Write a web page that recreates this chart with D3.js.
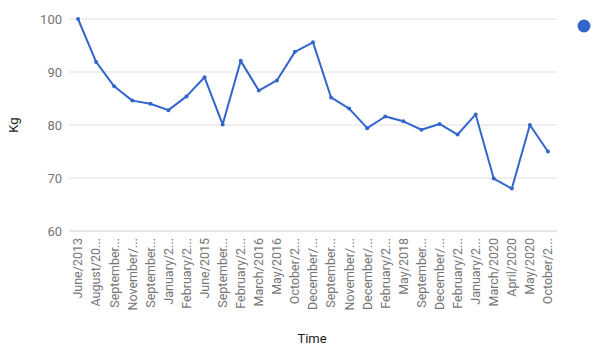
<!DOCTYPE html>
<html>
<head>
<meta charset="utf-8">
<script src="https://cdn.jsdelivr.net/npm/d3@7"></script>
<style>
  html, body { margin: 0; padding: 0; background: #fff; }
  svg { display: block; font-family: Roboto, Arial, sans-serif; }
</style>
</head>
<body>
<svg width="605" height="354"></svg>
<script>
const width = 605;
const height = 354;

// tick labels as shown (Google truncates long ones)
const months = [
    "June/2013", "August/20...", "September...", "November/...", "September...",
    "January/2...", "February/2...", "June/2015", "September...", "February/2...",
    "March/2016", "May/2016", "October/2...", "December/...", "September...",
    "November/...", "December/...", "February/2...", "May/2018", "September...",
    "December/...", "February/2...", "January/2...", "March/2020", "April/2020",
    "May/2020", "October/2..."
];
const weights = [
    100, 91.9, 87.3, 84.6, 84, 82.8, 85.4, 89, 80.1, 92.1,
    86.5, 88.4, 93.8, 95.6, 85.2, 83.1, 79.4, 81.6, 80.7, 79.1,
    80.2, 78.2, 82, 69.9, 68, 80, 75
];
const yTicks = [60, 70, 80, 90, 100];

const margin = {left: 69, right: 48, top: 19, bottom: 123};
const svg = d3.select("svg");

const x = d3.scaleBand()
    .domain(d3.range(months.length))
    .range([margin.left, width - margin.right]);

const y = d3.scaleLinear()
    .domain([60, 100])
    .range([height - margin.bottom, margin.top]);

// gridlines
svg.append("g")
    .selectAll("line")
    .data(yTicks)
    .join("line")
    .attr("x1", margin.left)
    .attr("x2", width - margin.right)
    .attr("y1", d => y(d))
    .attr("y2", d => y(d))
    .attr("stroke", d => d === 60 ? "#cccccc" : "#e0e0e0")
    .attr("stroke-width", 1);

// y labels
svg.append("g")
    .selectAll("text")
    .data(yTicks)
    .join("text")
    .attr("x", margin.left - 7)
    .attr("y", d => y(d))
    .attr("dy", "0.35em")
    .attr("text-anchor", "end")
    .attr("font-size", 13)
    .attr("fill", "#757575")
    .text(d => d);

// x labels, rotated
svg.append("g")
    .selectAll("text")
    .data(months)
    .join("text")
    .attr("transform", (d, i) => `translate(${x(i) + x.bandwidth() / 2},${y(60) + 7}) rotate(-90)`)
    .attr("dy", "0.35em")
    .attr("text-anchor", "end")
    .attr("font-size", 12.5)
    .attr("fill", "#757575")
    .text(d => d);

// line
const line = d3.line()
    .x((d, i) => x(i) + x.bandwidth() / 2)
    .y(d => y(d));

svg.append("path")
    .datum(weights)
    .attr("d", line)
    .attr("fill", "none")
    .attr("stroke", "#3366cc")
    .attr("stroke-width", 2)
    .attr("stroke-linejoin", "round");

svg.append("g")
    .selectAll("circle")
    .data(weights)
    .join("circle")
    .attr("cx", (d, i) => x(i) + x.bandwidth() / 2)
    .attr("cy", d => y(d))
    .attr("r", 2)
    .attr("fill", "#3366cc");

// axis titles
svg.append("text")
    .attr("transform", `translate(18,${(y(60) + y(100)) / 2}) rotate(-90)`)
    .attr("text-anchor", "middle")
    .attr("font-size", 13)
    .attr("fill", "#222")
    .text("Kg");

svg.append("text")
    .attr("x", 312)
    .attr("y", 343)
    .attr("text-anchor", "middle")
    .attr("font-size", 13)
    .attr("fill", "#222")
    .text("Time");

// legend dot (no label)
svg.append("circle")
    .attr("cx", 584)
    .attr("cy", 26)
    .attr("r", 6.5)
    .attr("fill", "#3366cc");
</script>
</body>
</html>
